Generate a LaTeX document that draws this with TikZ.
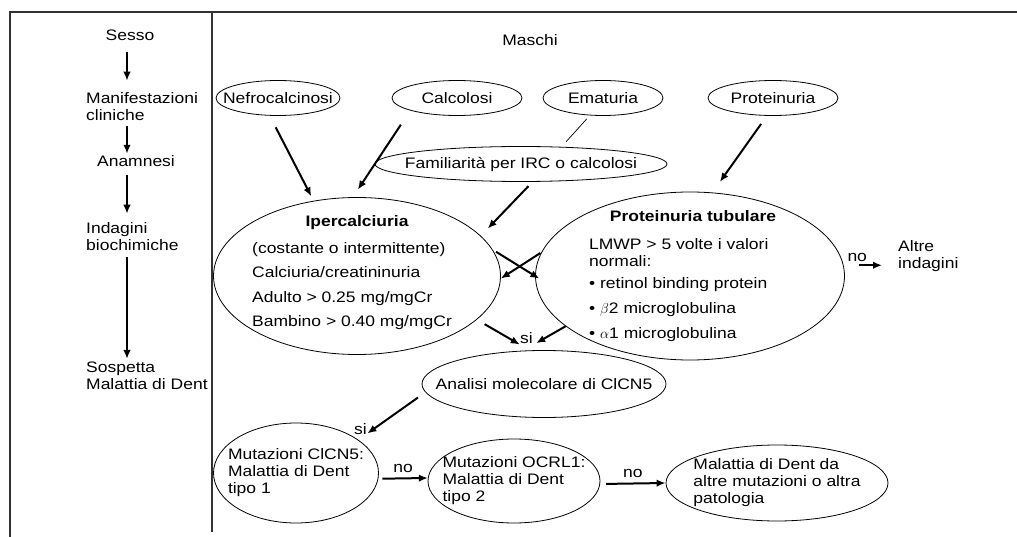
\documentclass[tikz,border=0pt]{standalone}
\usepackage{fontspec}
\setmainfont{Liberation Sans}[FakeStretch=1.15]
\usetikzlibrary{shapes,arrows.meta,positioning}

\tikzset{
    oval/.style={draw, ellipse, line width=0.8pt, inner xsep=-30pt, inner ysep=-8pt},
    arr/.style={-{Latex[length=9pt,width=7.5pt]}, line width=2pt},
    lbl/.style={inner sep=0pt, align=left},
    edgelbl/.style={inner sep=0pt},
    frame/.style={line width=1.4pt, black!80},
}

\begin{document}
\begin{tikzpicture}[x=1pt, y=-1pt, font=\fontsize{15.2}{17}\selectfont]
\useasboundingbox (0,0) rectangle (1017,537);

\draw[frame] (10,537) -- (10,12) -- (1017,12);
\draw[frame] (212,12) -- (212,532);

% colonna sinistra
\coordinate (axis) at (127,0);
\node[lbl, anchor=base] (sesso) at (130,41) {Sesso};
\node[lbl, anchor=west] (manif) at (86,107) {Manifestazioni\\cliniche};
\node[lbl, anchor=base] (anam) at (136,167) {Anamnesi};
\node[lbl, anchor=west] (indag) at (86,237) {Indagini\\biochimiche};
\node[lbl, anchor=west] (sosp) at (86,376) {Sospetta\\Malattia di Dent};

\draw[arr, shorten <=11, shorten >=12] (sesso.south -| axis) -- (manif.north -| axis);
\draw[arr, shorten <=5, shorten >=2] (manif.south -| axis) -- (anam.north -| axis);
\draw[arr, shorten <=8, shorten >=9] (anam.south -| axis) -- (indag.north -| axis);
\draw[arr, shorten <=6, shorten >=3] (indag.south -| axis) -- (sosp.north -| axis);

% maschi
\node[lbl, anchor=base] (maschi) at (530,46) {Maschi};
\node[oval, minimum width=124, minimum height=35] (nefro) at (278,98) {Nefrocalcinosi};
\node[oval, minimum width=130, minimum height=35] (calc) at (457,98) {Calcolosi};
\node[oval, minimum width=120, minimum height=35] (emat) at (603,98) {Ematuria};
\node[oval, minimum width=130, minimum height=35] (prot) at (773,98) {Proteinuria};
\node[oval, minimum width=292, minimum height=35] (fam) at (521,164) {Familiarità per IRC o calcolosi};

\node[oval, minimum width=287, minimum height=157] (iper) at (357,276) {};
\node[lbl, anchor=base, font=\fontsize{15.2}{17}\selectfont\bfseries] (iperhead) at (357,227) {Ipercalciuria};
\node[lbl, anchor=north west, font=\fontsize{15.2}{24.5}\selectfont] (ipertxt) at (252,242)
    {(costante o intermittente)\\Calciuria/creatininuria\\Adulto > 0.25 mg/mgCr\\Bambino > 0.40 mg/mgCr};

\node[oval, minimum width=309, minimum height=168] (tub) at (690,276) {};
\node[lbl, anchor=base, font=\fontsize{15.2}{17}\selectfont\bfseries] (tubhead) at (693,222) {Proteinuria tubulare};
\node[lbl, anchor=north west] (tubtxt) at (589,238)
    {LMWP > 5 volte i valori\\normali:\\[5pt]\textbullet\ retinol binding protein\\[8pt]\textbullet\ $\beta$2 microglobulina\\[8pt]\textbullet\ $\alpha$1 microglobulina};

\node[oval, minimum width=244, minimum height=67] (anal) at (544,384) {Analisi molecolare di ClCN5};
\node[oval, align=left, minimum width=165, minimum height=100] (mut1) at (296,473) {Mutazioni ClCN5:\\Malattia di Dent\\tipo 1};
\node[oval, align=left, minimum width=172, minimum height=84] (mut2) at (514,481) {Mutazioni OCRL1:\\Malattia di Dent\\tipo 2};
\node[oval, align=left, minimum width=222, minimum height=76] (mut3) at (777,483) {Malattia di Dent da\\altre mutazioni o altra\\patologia};
\node[lbl, anchor=west] (altre) at (898,256) {Altre\\indagini};

\draw[arr, shorten <=13, shorten >=5] (nefro.245) -- (iper.120);
\draw[arr, shorten <=17, shorten >=9] (calc.195) -- (iper.93);
\draw[arr, shorten <=6, shorten >=10] (fam.303) -- (iper.18);
\draw[arr, shorten <=10, shorten >=13] (prot.251) -- (tub.75);
\draw[line width=0.7pt, shorten <=4.6, shorten >=6.8] (emat.233) -- (fam.23);

\draw[arr, shorten <=4, shorten >=-5] (iper.11) -- (tub.180);
\draw[arr, shorten <=1] (tub.171) -- (iper.359);
\draw[arr, shorten <=9, shorten >=11.5] (iper.340) -- node[edgelbl, pos=0.8, anchor=south west] (si1) {si} (anal.113);
\draw[arr, shorten >=15] (tub.202) -- (anal.122);
\draw[arr, shorten <=15, shorten >=16] (tub.4) -- node[edgelbl, pos=0.25, above=3pt] (no3) {no} (tub.4 -| altre.west);

\draw[arr, shorten <=9, shorten >=11] (anal.184) -- node[edgelbl, pos=0.97, above=3pt] (si2) {si} (mut1.28);
\draw[arr, shorten <=4] (mut1.356) -- node[edgelbl, above=5pt] (no1) {no} (mut2.178);
\draw[arr, shorten <=6] (mut2.358) -- node[edgelbl, above=5pt] (no2) {no} (mut3.180);

\end{tikzpicture}
\end{document}
